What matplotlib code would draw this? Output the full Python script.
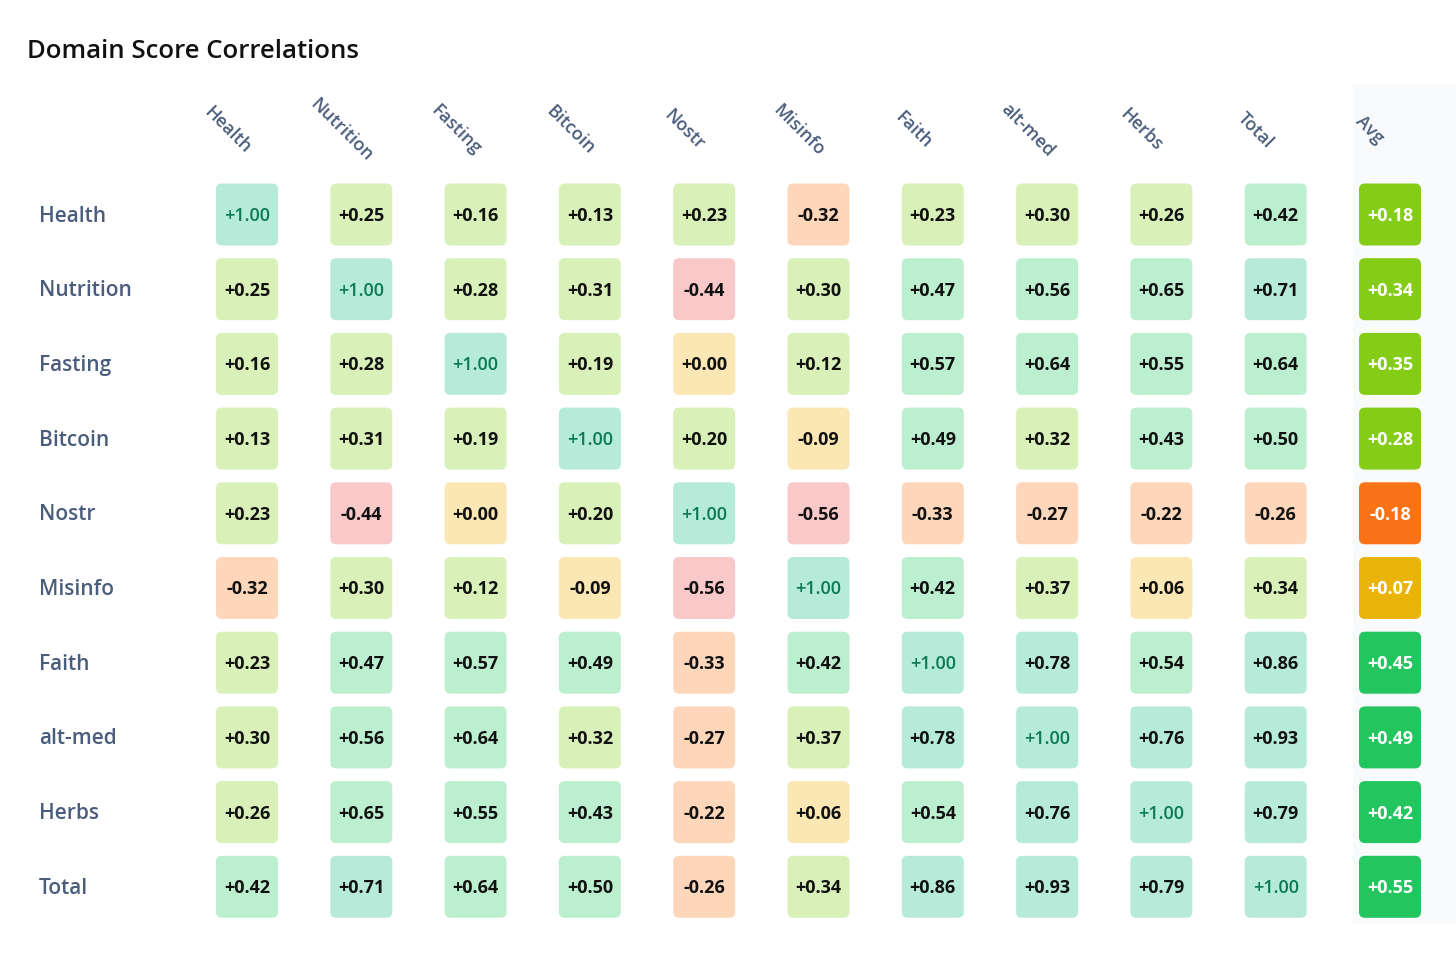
import numpy as np
import matplotlib
matplotlib.use('Agg')
import matplotlib.pyplot as plt
from matplotlib.patches import FancyBboxPatch, Rectangle

plt.rcParams['font.family'] = ['Open Sans', 'DejaVu Sans']

domains = ['Health', 'Nutrition', 'Fasting', 'Bitcoin', 'Nostr',
           'Misinfo', 'Faith', 'alt-med', 'Herbs', 'Total']
columns = domains + ['Avg']

corr = [
    [1.00, 0.25, 0.16, 0.13, 0.23, -0.32, 0.23, 0.30, 0.26, 0.42],
    [0.25, 1.00, 0.28, 0.31, -0.44, 0.30, 0.47, 0.56, 0.65, 0.71],
    [0.16, 0.28, 1.00, 0.19, 0.00, 0.12, 0.57, 0.64, 0.55, 0.64],
    [0.13, 0.31, 0.19, 1.00, 0.20, -0.09, 0.49, 0.32, 0.43, 0.50],
    [0.23, -0.44, 0.00, 0.20, 1.00, -0.56, -0.33, -0.27, -0.22, -0.26],
    [-0.32, 0.30, 0.12, -0.09, -0.56, 1.00, 0.42, 0.37, 0.06, 0.34],
    [0.23, 0.47, 0.57, 0.49, -0.33, 0.42, 1.00, 0.78, 0.54, 0.86],
    [0.30, 0.56, 0.64, 0.32, -0.27, 0.37, 0.78, 1.00, 0.76, 0.93],
    [0.26, 0.65, 0.55, 0.43, -0.22, 0.06, 0.54, 0.76, 1.00, 0.79],
    [0.42, 0.71, 0.64, 0.50, -0.26, 0.34, 0.86, 0.93, 0.79, 1.00],
]
avg = [0.18, 0.34, 0.35, 0.28, -0.18, 0.07, 0.45, 0.49, 0.42, 0.55]

LABEL = '#4b5d7c'


def cell_color(v):
    if v >= 0.7:
        return '#b6ebd9'
    if v >= 0.4:
        return '#bcefcf'
    if v >= 0.1:
        return '#d9f1b9'
    if v > -0.1:
        return '#fae7b4'
    if v > -0.4:
        return '#fed6b9'
    return '#f9c8c8'


def avg_color(v):
    if v >= 0.4:
        return '#22c55e'
    if v >= 0.1:
        return '#84cc16'
    if v >= 0:
        return '#eab308'
    return '#f97316'


fig = plt.figure(figsize=(14.56, 9.6), dpi=100)
ax = fig.add_axes([0, 0, 1, 1])
ax.set_xlim(0, 1456)
ax.set_ylim(960, 0)
ax.axis('off')

x0, dx = 247, 114.3
y0, dy = 214.5, 74.7
w = 62

# light band behind the Avg column
ax.add_patch(Rectangle((1353, 84), 110, 840, facecolor='#f8fafc', edgecolor='none', zorder=0))

ax.text(27, 52, 'Domain Score Correlations', fontsize=18.5, fontweight='semibold',
        color='#111111', va='center', ha='left')

for j, name in enumerate(columns):
    cx = x0 + j * dx
    ax.text(cx - 20, 130, name, rotation=-45, ha='center', va='center',
            rotation_mode='anchor', fontsize=13, color=LABEL, fontweight='semibold')

for i, name in enumerate(domains):
    cy = y0 + i * dy
    ax.text(39, cy + 1.5, name, ha='left', va='center', fontsize=15,
            color=LABEL, fontweight='semibold')
    for j, v in enumerate(corr[i]):
        cx = x0 + j * dx
        ax.add_patch(FancyBboxPatch((cx - w / 2, cy - w / 2), w, w,
                                    boxstyle='round,pad=0,rounding_size=6',
                                    facecolor=cell_color(v), edgecolor='none', zorder=1))
        diag = i == j
        ax.text(cx, cy + 1.5, f'{v:+.2f}', ha='center', va='center', fontsize=13,
                color='#0b7a55' if diag else '#111111',
                fontweight='semibold' if diag else 'bold', zorder=2)
    cx = x0 + len(domains) * dx
    ax.add_patch(FancyBboxPatch((cx - w / 2, cy - w / 2), w, w,
                                boxstyle='round,pad=0,rounding_size=6',
                                facecolor=avg_color(avg[i]), edgecolor='none', zorder=1))
    ax.text(cx, cy + 1.5, f'{avg[i]:+.2f}', ha='center', va='center', fontsize=13,
            color='white', fontweight='bold', zorder=2)

fig.savefig('out.png', dpi=100)
